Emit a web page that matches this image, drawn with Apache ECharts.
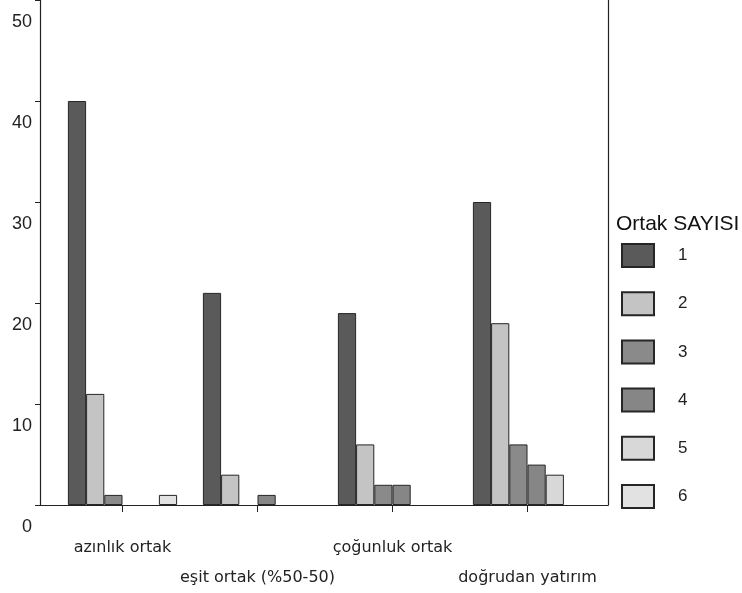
<!DOCTYPE html>
<html>
<head>
<meta charset="utf-8">
<script src="https://cdn.jsdelivr.net/npm/echarts@6/dist/echarts.min.js"></script>
<style>
  html, body { margin: 0; padding: 0; background: #fff; }
  #chart { width: 742px; height: 593px; }
</style>
</head>
<body>
<div id="chart"></div>
<script>
//data
let categories = ['azınlık ortak', 'eşit ortak (%50-50)', 'çoğunluk ortak', 'doğrudan yatırım'];
let seriesNames = ['1', '2', '3', '4', '5', '6'];
let s1 = [40, 21, 19, 30];
let s2 = [11, 3, 6, 18];
let s3 = [1, 0, 2, 6];
let s4 = [0, 1, 2, 4];
let s5 = [0, 0, 0, 3];
let s6 = [1, 0, 0, 0];
let yTicks = [0, 10, 20, 30, 40, 50];

let colors = ['#5a5a5a', '#c4c4c4', '#8a8a8a', '#868686', '#d8d8d8', '#e2e2e2'];
let font = '"Liberation Sans", Arial, sans-serif';
let wideFont = '"DejaVu Sans", sans-serif';

let chart = echarts.init(document.getElementById('chart'));

//one bar series per "Ortak SAYISI" value, zero counts left empty
let allValues = [s1, s2, s3, s4, s5, s6];
let series = [];
for (let i = 0; i < allValues.length; i++) {
    series.push({
        name: seriesNames[i],
        type: 'bar',
        xAxisIndex: 1,
        yAxisIndex: 2,
        barWidth: 18.2,
        barGap: '0%',
        data: allValues[i].map(function (v) { return v === 0 ? '-' : v; }),
        itemStyle: { color: colors[i], borderColor: '#262626', borderWidth: 1 }
    });
}

let option = {
    animation: false,
    backgroundColor: '#fff',
    title: {
        text: 'Ortak SAYISI',
        left: 611,
        top: 209,
        textStyle: { fontFamily: font, fontSize: 21, fontWeight: 'normal', color: '#111' }
    },
    legend: {
        orient: 'vertical',
        left: 621,
        top: 243,
        padding: 0,
        itemWidth: 32,
        itemHeight: 23,
        itemGap: 23.2,
        icon: 'rect',
        data: seriesNames,
        textStyle: { fontFamily: font, fontSize: 17, color: '#222', padding: [0, 0, 0, 19] }
    },
    grid: [
        { left: 40, right: 134, top: 0, bottom: 88 },
        { left: 55, right: 147, top: 0, bottom: 88 }
    ],
    xAxis: [
        {
            gridIndex: 0, type: 'value', min: 0, max: 1,
            axisLine: { show: true, lineStyle: { color: '#222', width: 1.2 } },
            axisTick: { show: false }, axisLabel: { show: false }, splitLine: { show: false }
        },
        {
            gridIndex: 1, type: 'category', data: categories,
            axisLine: { show: false },
            axisTick: { show: true, alignWithLabel: true, length: 7, lineStyle: { color: '#222' } },
            axisLabel: {
                interval: 0,
                margin: 28,
                lineHeight: 30,
                verticalAlign: 'top',
                fontFamily: wideFont,
                fontSize: 16,
                color: '#222',
                formatter: function (v, idx) { return idx % 2 === 1 ? '\n' + v : v; }
            }
        }
    ],
    yAxis: [
        {
            gridIndex: 0, type: 'value', min: yTicks[0], max: yTicks[yTicks.length - 1], interval: 10,
            axisLine: { show: true, lineStyle: { color: '#222', width: 1.2 } },
            axisTick: { show: true, length: 5, lineStyle: { color: '#222' } },
            splitLine: { show: false },
            axisLabel: {
                margin: 8,
                verticalAlign: 'top',
                padding: [13, 0, 0, 0],
                fontFamily: font,
                fontSize: 18,
                color: '#222'
            }
        },
        {
            gridIndex: 0, type: 'value', position: 'right', min: 0, max: 50,
            axisLine: { show: true, lineStyle: { color: '#222', width: 1.2 } },
            axisTick: { show: false }, axisLabel: { show: false }, splitLine: { show: false }
        },
        {
            gridIndex: 1, type: 'value', min: 0, max: 50, show: false,
            splitLine: { show: false }
        }
    ],
    series: series
};

chart.setOption(option);
</script>
</body>
</html>
